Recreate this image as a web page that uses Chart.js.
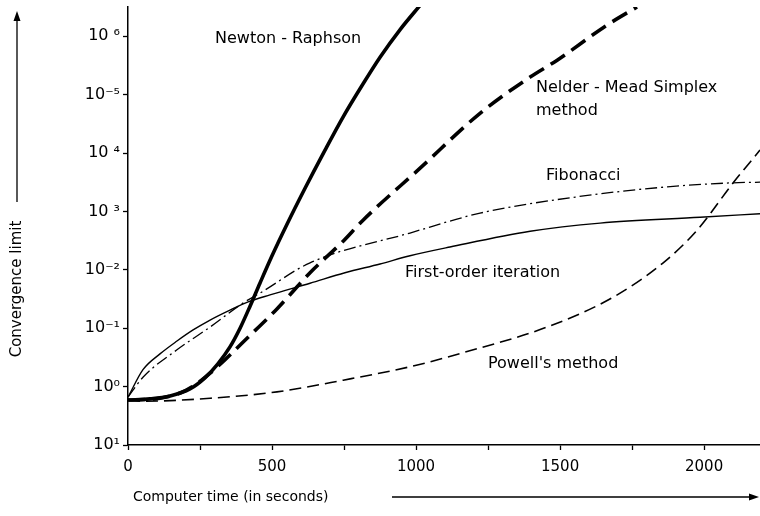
<!DOCTYPE html>
<html>
<head>
<meta charset="utf-8">
<script src="https://cdn.jsdelivr.net/npm/chart.js@4/dist/chart.umd.min.js"></script>
<style>
  body { margin: 0; background: #fff; }
  #wrap { width: 760px; height: 516px; }
</style>
</head>
<body>
<div id="wrap"><canvas id="chart" width="760" height="516"></canvas></div>
<script>
// tick labels of the convergence axis, bottom to top
const yTickLabels = ['10¹', '10⁰', '10⁻¹', '10⁻²', '10 ³', '10 ⁴', '10⁻⁵', '10 ⁶'];
const xTickValues = [0, 250, 500, 750, 1000, 1250, 1500, 1750, 2000];
const xTickLabels = [0, 500, 1000, 1500, 2000];

// computer time (s) / convergence level (tick index) for each method
const timeNewton = [0, 76, 146, 215, 267, 312, 354, 389, 424, 458, 500, 552, 615, 684, 747, 813, 875, 944, 1021];
const limitNewton = [0.77, 0.79, 0.84, 0.96, 1.15, 1.39, 1.68, 2.00, 2.38, 2.77, 3.24, 3.78, 4.40, 5.05, 5.62, 6.16, 6.64, 7.11, 7.57];

const timeNelder = [0, 111, 181, 233, 285, 337, 399, 517, 632, 747, 816, 1014, 1222, 1396, 1490, 1663, 1767];
const limitNelder = [0.77, 0.80, 0.89, 1.03, 1.23, 1.46, 1.76, 2.33, 2.95, 3.49, 3.85, 4.74, 5.68, 6.30, 6.59, 7.19, 7.50];

const timeFirst = [0, 52, 111, 170, 226, 285, 354, 417, 493, 632, 753, 875, 979, 1118, 1396, 1639, 1986, 2194];
const limitFirst = [0.82, 1.29, 1.56, 1.78, 1.97, 2.14, 2.31, 2.45, 2.57, 2.77, 2.95, 3.10, 3.24, 3.39, 3.66, 3.80, 3.90, 3.96];

const timeFibonacci = [0, 52, 170, 285, 399, 458, 632, 979, 1222, 1559, 1872, 2101, 2194];
const limitFibonacci = [0.82, 1.16, 1.63, 2.02, 2.43, 2.60, 3.12, 3.63, 3.97, 4.25, 4.42, 4.49, 4.50];

const timePowell = [0, 52, 285, 517, 747, 979, 1163, 1455, 1684, 1858, 1976, 2101, 2194];
const limitPowell = [0.77, 0.75, 0.80, 0.91, 1.11, 1.34, 1.58, 2.02, 2.53, 3.12, 3.68, 4.49, 5.05];

function pts(xs, ys) {
    return xs.map(function (x, i) { return { x: x, y: ys[i] }; });
}

const FONT = '"DejaVu Sans", sans-serif';

// curve names, axis names and arrows
const annotations = {
    id: 'annotations',
    afterDraw: function (chart) {
        const ctx = chart.ctx;
        ctx.save();
        ctx.fillStyle = '#000';
        ctx.strokeStyle = '#000';
        ctx.font = '16px ' + FONT;
        ctx.textBaseline = 'middle';
        ctx.textAlign = 'left';
        ctx.fillText('Newton - Raphson', 215, 39);
        ctx.fillText('Nelder - Mead Simplex', 536, 88);
        ctx.fillText('method', 536, 111);
        ctx.fillText('Fibonacci', 546, 176);
        ctx.fillText('First-order iteration', 405, 273);
        ctx.fillText("Powell's method", 488, 364);

        ctx.font = '14px ' + FONT;
        ctx.fillText('Computer time (in seconds)', 133, 497);
        ctx.save();
        ctx.font = '15px ' + FONT;
        ctx.translate(17, 289);
        ctx.rotate(-Math.PI / 2);
        ctx.textAlign = 'center';
        ctx.fillText('Convergence limit', 0, 0);
        ctx.restore();

        ctx.lineWidth = 1.3;
        ctx.beginPath();
        ctx.moveTo(17, 202); ctx.lineTo(17, 18);
        ctx.moveTo(392, 497); ctx.lineTo(752, 497);
        ctx.stroke();
        ctx.beginPath();
        ctx.moveTo(17, 11); ctx.lineTo(13.5, 21); ctx.lineTo(20.5, 21); ctx.closePath();
        ctx.moveTo(759, 497); ctx.lineTo(749, 493.5); ctx.lineTo(749, 500.5); ctx.closePath();
        ctx.fill();
        ctx.restore();
    }
};

new Chart(document.getElementById('chart').getContext('2d'), {
    type: 'line',
    data: {
        datasets: [
            { data: pts(timeNewton, limitNewton), borderColor: '#000', borderWidth: 3.6 },
            { data: pts(timeNelder, limitNelder), borderColor: '#000', borderWidth: 3.6, borderDash: [17, 8] },
            { data: pts(timeFirst, limitFirst), borderColor: '#000', borderWidth: 1.4 },
            { data: pts(timeFibonacci, limitFibonacci), borderColor: '#000', borderWidth: 1.3, borderDash: [12, 4, 2, 4] },
            { data: pts(timePowell, limitPowell), borderColor: '#000', borderWidth: 1.6, borderDash: [12, 6] }
        ]
    },
    options: {
        responsive: false,
        animation: false,
        layout: { padding: { top: 7, left: 0, right: 0, bottom: 0 } },
        elements: {
            point: { radius: 0 },
            line: { cubicInterpolationMode: 'monotone', fill: false }
        },
        plugins: {
            legend: { display: false },
            tooltip: { enabled: false }
        },
        scales: {
            x: {
                type: 'linear',
                bounds: 'data',
                min: 0,
                max: 2194,
                afterBuildTicks: function (scale) {
                    scale.ticks = xTickValues.map(function (v) { return { value: v }; });
                },
                afterFit: function (scale) {
                    scale.height = 71;
                    scale.paddingLeft = 0;
                    scale.paddingRight = 0;
                },
                border: { color: '#000', width: 1.5 },
                grid: { drawOnChartArea: false, color: '#000', tickLength: 5, tickWidth: 1.3 },
                ticks: {
                    maxRotation: 0,
                    autoSkip: false,
                    padding: 8,
                    color: '#000',
                    font: { family: FONT, size: 15 },
                    callback: function (v) { return xTickLabels.indexOf(v) >= 0 ? String(v) : ''; }
                }
            },
            y: {
                type: 'linear',
                bounds: 'data',
                min: 0,
                max: 7.5,
                afterBuildTicks: function (scale) {
                    scale.ticks = yTickLabels.map(function (t, i) { return { value: i }; });
                },
                afterFit: function (scale) {
                    scale.width = 128;
                    scale.paddingTop = 0;
                    scale.paddingBottom = 0;
                },
                border: { color: '#000', width: 1.5 },
                grid: { drawOnChartArea: false, color: '#000', tickLength: 5, tickWidth: 1.3 },
                ticks: {
                    padding: 3,
                    color: '#000',
                    font: { family: FONT, size: 16 },
                    callback: function (v) { return yTickLabels[v]; }
                }
            }
        }
    },
    plugins: [annotations]
});
</script>
</body>
</html>
